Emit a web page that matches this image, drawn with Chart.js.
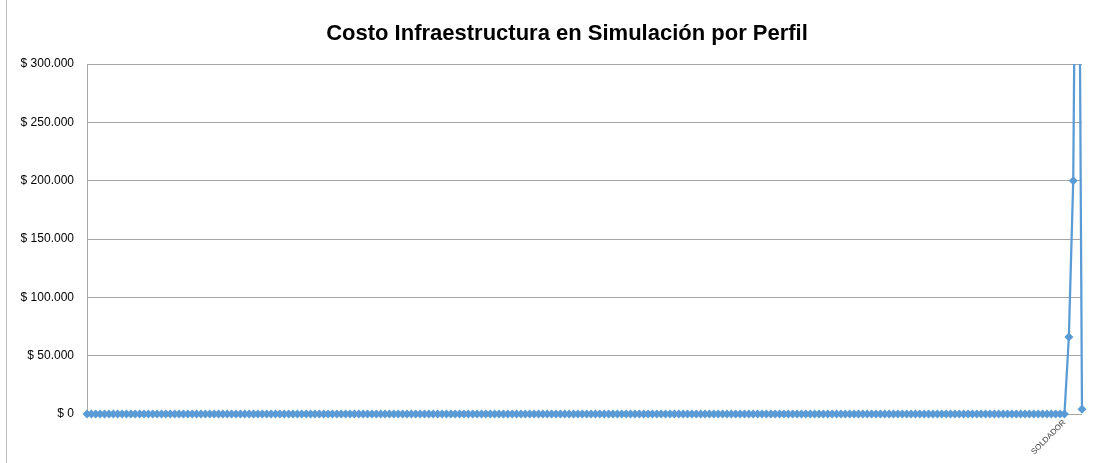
<!DOCTYPE html>
<html>
<head>
<meta charset="utf-8">
<script src="https://cdn.jsdelivr.net/npm/chart.js@4/dist/chart.umd.min.js"></script>
<style>
  html, body { margin: 0; padding: 0; background: #ffffff; }
  canvas { display: block; }
</style>
</head>
<body>
<canvas id="c" width="1094" height="463"></canvas>
<script>
// ---- Data ----
const chartTitle = "Costo Infraestructura en Simulación por Perfil";

const categories = [
  "","","","","","","","","","","","","","","","","","","","",
  "","","","","","","","","","","","","","","","","","","","",
  "","","","","","","","","","","","","","","","","","","","",
  "","","","","","","","","","","","","","","","","","","","",
  "","","","","","","","","","","","","","","","","","","","",
  "","","","","","","","","","","","","","","","","","","","",
  "","","","","","","","","","","","","","","","","","","","",
  "","","","","","","","","","","","","","","","","","","","",
  "","","","","","","","","","","","","","","","","","","","",
  "","","","","","","","","","","","","","","","","","","","",
  "","","","","","","","","","","","","","","","","","","","",
  "","","","SOLDADOR","","","",""
];

const costValues = [
  0,0,0,0,0,0,0,0,0,0,0,0,0,0,0,0,0,0,0,0,
  0,0,0,0,0,0,0,0,0,0,0,0,0,0,0,0,0,0,0,0,
  0,0,0,0,0,0,0,0,0,0,0,0,0,0,0,0,0,0,0,0,
  0,0,0,0,0,0,0,0,0,0,0,0,0,0,0,0,0,0,0,0,
  0,0,0,0,0,0,0,0,0,0,0,0,0,0,0,0,0,0,0,0,
  0,0,0,0,0,0,0,0,0,0,0,0,0,0,0,0,0,0,0,0,
  0,0,0,0,0,0,0,0,0,0,0,0,0,0,0,0,0,0,0,0,
  0,0,0,0,0,0,0,0,0,0,0,0,0,0,0,0,0,0,0,0,
  0,0,0,0,0,0,0,0,0,0,0,0,0,0,0,0,0,0,0,0,
  0,0,0,0,0,0,0,0,0,0,0,0,0,0,0,0,0,0,0,0,
  0,0,0,0,0,0,0,0,0,0,0,0,0,0,0,0,0,0,0,0,
  0,0,0,0,66000,200000,660000,4000
];

const yTickValues = [0, 50000, 100000, 150000, 200000, 250000, 300000];
const yMin = 0;
const yMax = 300000;
const yStep = 50000;

// ---- Helpers ----
function formatPeso(v) {
  const s = Math.round(v).toString().replace(/\B(?=(\d{3})+(?!\d))/g, ".");
  return "$ " + s;
}

const FONT = "'Liberation Sans', Arial, sans-serif";
const LINE_BLUE = "#5b9bd5";
const GRID_GRAY = "#a6a6a6";

const frameAndTitle = {
  id: "frameAndTitle",
  beforeDraw(chart) {
    const ctx = chart.ctx;
    ctx.save();
    ctx.fillStyle = "#ffffff";
    ctx.fillRect(0, 0, chart.width, chart.height);
    ctx.strokeStyle = "#bfbfbf";
    ctx.lineWidth = 1;
    ctx.beginPath();
    ctx.moveTo(6.5, 0);
    ctx.lineTo(6.5, chart.height);
    ctx.stroke();
    ctx.restore();
  },
  afterDraw(chart) {
    const ctx = chart.ctx;
    ctx.save();
    ctx.fillStyle = "#000000";
    ctx.font = "bold 22px " + FONT;
    ctx.textAlign = "center";
    ctx.textBaseline = "middle";
    ctx.fillText(chartTitle, 567, 34);
    ctx.restore();
  }
};

new Chart(document.getElementById("c"), {
  type: "line",
  data: {
    labels: categories,
    datasets: [{
      label: "Costo",
      data: costValues,
      borderColor: LINE_BLUE,
      backgroundColor: LINE_BLUE,
      borderWidth: 2.25,
      pointStyle: "rectRot",
      pointRadius: 4.5,
      pointBorderWidth: 0,
      pointBackgroundColor: LINE_BLUE,
      tension: 0,
      fill: false,
      clip: { left: 6, top: 0, right: 6, bottom: 6 }
    }]
  },
  options: {
    responsive: false,
    devicePixelRatio: 1,
    animation: false,
    events: [],
    layout: { padding: { top: 64, left: 0, right: 12, bottom: 0 } },
    plugins: {
      legend: { display: false },
      title: { display: false },
      tooltip: { enabled: false }
    },
    scales: {
      x: {
        type: "category",
        offset: false,
        grid: { display: false, drawTicks: false },
        border: { display: false },
        ticks: {
          autoSkip: false,
          maxRotation: 45,
          minRotation: 45,
          padding: 4,
          font: { family: FONT, size: 8 },
          color: "#404040"
        },
        afterFit(scale) { scale.height = 49; }
      },
      y: {
        min: yMin,
        max: yMax,
        afterBuildTicks(scale) {
          scale.ticks = yTickValues.map(v => ({ value: v }));
        },
        grid: { color: GRID_GRAY, lineWidth: 1, drawTicks: false },
        border: { display: true, color: GRID_GRAY, width: 1 },
        ticks: {
          stepSize: yStep,
          padding: 13,
          font: { family: FONT, size: 12 },
          color: "#000000",
          callback: (v) => formatPeso(v)
        },
        afterFit(scale) { scale.width = 87; }
      }
    }
  },
  plugins: [frameAndTitle]
});
</script>
</body>
</html>
